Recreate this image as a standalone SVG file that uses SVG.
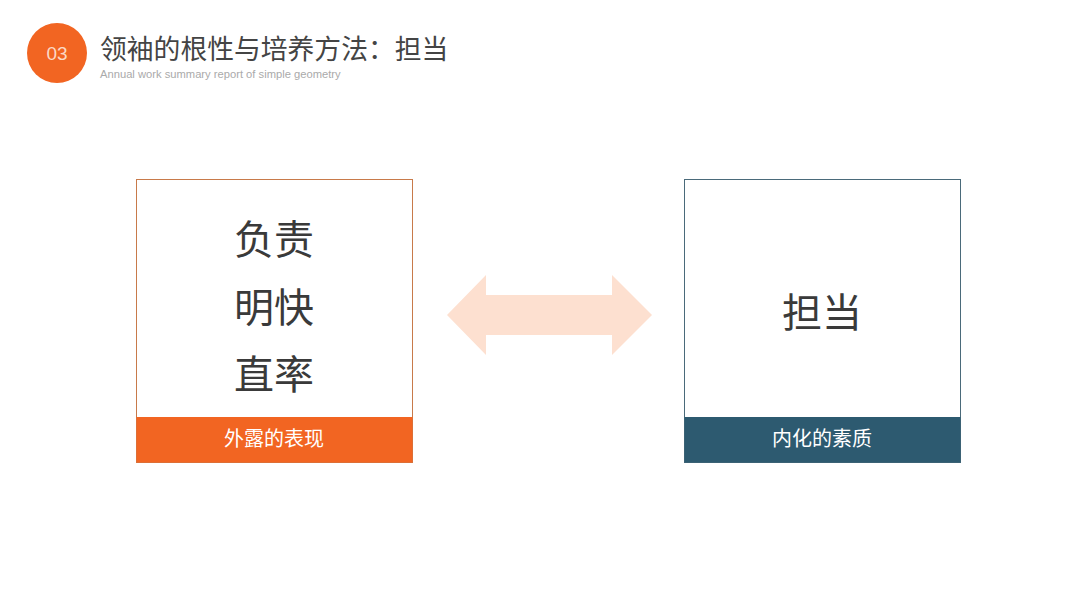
<svg xmlns="http://www.w3.org/2000/svg" width="1080" height="608" viewBox="0 0 1080 608">
<style>
.cjk{font-family:"Noto Sans CJK SC","Noto Sans",sans-serif}
.big{font-size:40px;fill:#3a3a3a;text-anchor:middle}
.bar{font-size:20px;fill:#ffffff;text-anchor:middle}
</style>
<rect width="1080" height="608" fill="#ffffff"/>
<g id="header">
<circle cx="57" cy="53" r="30" fill="#F26522"/>
<text x="57" y="60" font-family="Liberation Sans,Arial,sans-serif" font-size="19" fill="#fbd9c6" text-anchor="middle">03</text>
<text x="100" y="59" class="cjk" font-size="26.8" fill="#444">领袖的根性与培养方法：担当</text>
<text x="100" y="78" font-family="Liberation Sans,Arial,sans-serif" font-size="11.2" fill="#aaa">Annual work summary report of simple geometry</text>
</g>
<g id="node-left">
<rect x="136.5" y="179.5" width="276" height="283" fill="#fff" stroke="#c87a4a" stroke-width="1"/>
<rect x="136.5" y="417" width="276" height="45.5" fill="#F26522"/>
<text x="274" y="254" class="cjk big">负责</text>
<text x="274" y="322" class="cjk big">明快</text>
<text x="274" y="389" class="cjk big">直率</text>
<text x="274" y="446" class="cjk bar">外露的表现</text>
</g>
<g id="node-right">
<rect x="684.5" y="179.5" width="276" height="283" fill="#fff" stroke="#4a6a7a" stroke-width="1"/>
<rect x="684.5" y="417" width="276" height="45.5" fill="#2d5a70"/>
<text x="822" y="327" class="cjk big">担当</text>
<text x="822" y="446" class="cjk bar">内化的素质</text>
</g>
<g id="connectors">
<polygon points="447,315 486,275 486,295 612,295 612,275 652,315 612,355 612,335 486,335 486,355" fill="#FDE0D0"/>
</g>
</svg>
